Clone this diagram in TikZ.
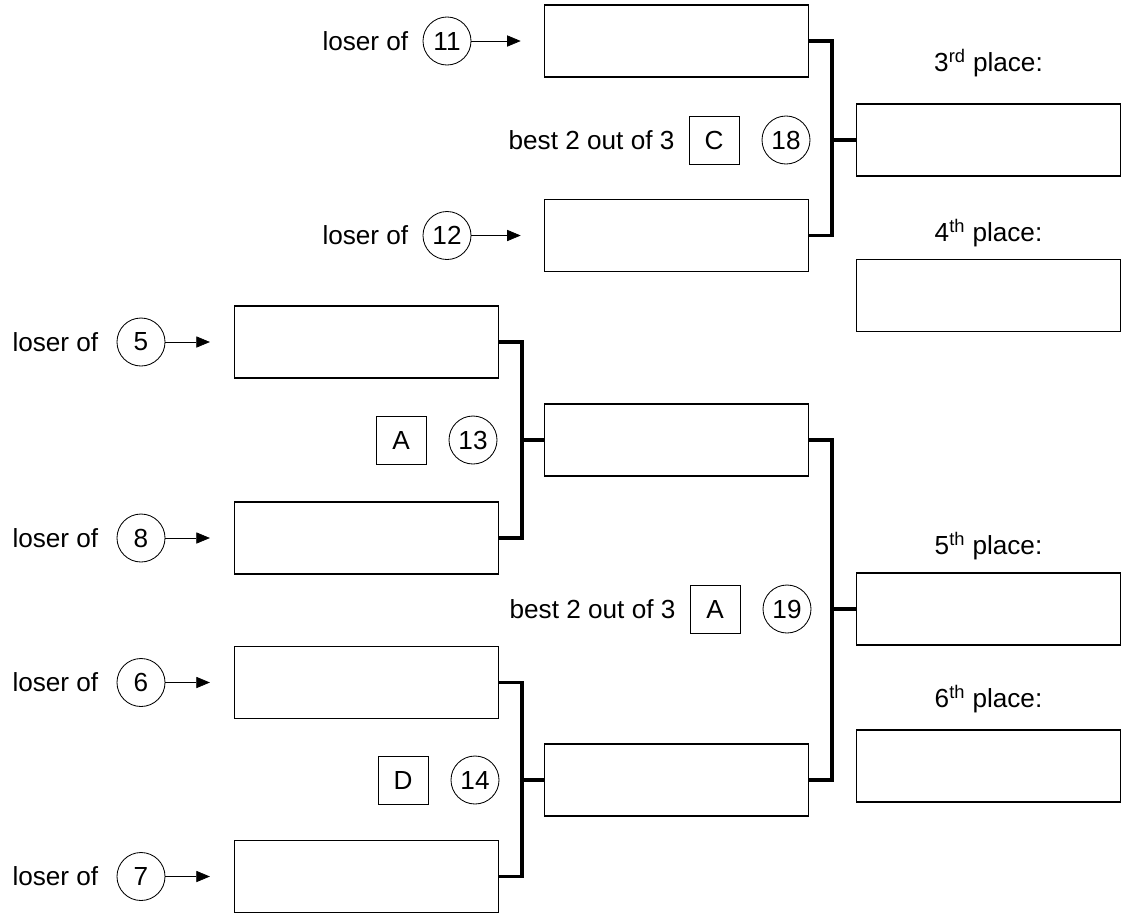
\documentclass[tikz,border=0pt]{standalone}
\usepackage{fontspec}
\setmainfont{Liberation Sans}
\usetikzlibrary{positioning,arrows.meta}

\begin{document}
\begin{tikzpicture}[x=0.025cm,y=-0.025cm,node distance=0.6cm,
    font=\fontsize{18.6}{22}\selectfont,
    slot/.style={draw,line width=0.8pt,minimum width=6.6cm,minimum height=1.8cm},
    game/.style={draw,circle,line width=0.6pt,minimum size=1.2cm,inner sep=0pt},
    court/.style={draw,line width=0.6pt,minimum width=1.25cm,minimum height=1.2cm,inner sep=0pt},
    txt/.style={inner sep=0pt},
    feed/.style={-{Triangle[length=0.34cm,width=0.28cm]},line width=0.5pt},
    bracket/.style={line width=2.4pt}]
    \useasboundingbox (0,0) rectangle (1131,915);

    % Nodes
    \node[slot] (r11) at (676.5,41) {};
    \node[slot] (r12) at (676.5,235.5) {};
    \node[slot] (r5) at (366.5,342) {};
    \node[slot] (r8) at (366.5,538) {};
    \node[slot] (r13) at (676.5,440) {};
    \node[slot] (r6) at (366.5,682.5) {};
    \node[slot] (r7) at (366.5,876.5) {};
    \node[slot] (r14) at (676.5,780) {};
    \node[slot] (third) at (988.5,140) {};
    \node[slot] (fourth) at (988.5,295.5) {};
    \node[slot] (fifth) at (988.5,609) {};
    \node[slot] (sixth) at (988.5,766) {};

    \node[txt] (h3) [above=0.65cm of third] {3\textsuperscript{rd} place:};
    \node[txt] (h4) [above=0.3cm of fourth] {4\textsuperscript{th} place:};
    \node[txt] (h5) [above=0.3cm of fifth] {5\textsuperscript{th} place:};
    \node[txt] (h6) [above=0.4cm of sixth] {6\textsuperscript{th} place:};

    \node[game] (g11) at (447,41) {11};
    \node[game] (g12) at (447,235.5) {12};
    \node[game] (g5) at (141,342) {5};
    \node[game] (g8) at (141,538) {8};
    \node[game] (g6) at (141,682.5) {6};
    \node[game] (g7) at (141,876.5) {7};
    \node[txt] (l11) [left=0.35cm of g11] {loser of};
    \node[txt] (l12) [left=0.35cm of g12] {loser of};
    \node[txt] (l5) [left=0.45cm of g5] {loser of};
    \node[txt] (l8) [left=0.45cm of g8] {loser of};
    \node[txt] (l6) [left=0.45cm of g6] {loser of};
    \node[txt] (l7) [left=0.45cm of g7] {loser of};

    \node[game] (g18) at (786,140) {18};
    \node[court] (c18) [left=0.55cm of g18] {C};
    \node[txt] (b18) [left=0.35cm of c18] {best 2 out of 3};
    \node[game] (g19) at (787,609) {19};
    \node[court] (c19) [left=0.55cm of g19] {A};
    \node[txt] (b19) [left=0.35cm of c19] {best 2 out of 3};
    \node[game] (g13) at (473,440) {13};
    \node[court] (c13) [left=0.55cm of g13] {A};
    \node[game] (g14) at (475,780) {14};
    \node[court] (c14) [left=0.55cm of g14] {D};

    % Arrows
    \draw[feed] (g11) -- ([xshift=-0.58cm]r11.west);
    \draw[feed] (g12) -- ([xshift=-0.58cm]r12.west);
    \draw[feed] (g5) -- ([xshift=-0.6cm]r5.west);
    \draw[feed] (g8) -- ([xshift=-0.6cm]r8.west);
    \draw[feed] (g6) -- ([xshift=-0.6cm]r6.west);
    \draw[feed] (g7) -- ([xshift=-0.6cm]r7.west);

    % Brackets
    \draw[bracket] (r11.east) -- ++(23,0) coordinate (j18) |- (r12.east);
    \draw[bracket] (j18 |- third.west) -- (third.west);
    \draw[bracket] (r5.east) -- ++(23,0) coordinate (j13) |- (r8.east);
    \draw[bracket] (j13 |- r13.west) -- (r13.west);
    \draw[bracket] (r6.east) -- ++(23,0) coordinate (j14) |- (r7.east);
    \draw[bracket] (j14 |- r14.west) -- (r14.west);
    \draw[bracket] (r13.east) -- ++(23,0) coordinate (j19) |- (r14.east);
    \draw[bracket] (j19 |- fifth.west) -- (fifth.west);
\end{tikzpicture}
\end{document}
